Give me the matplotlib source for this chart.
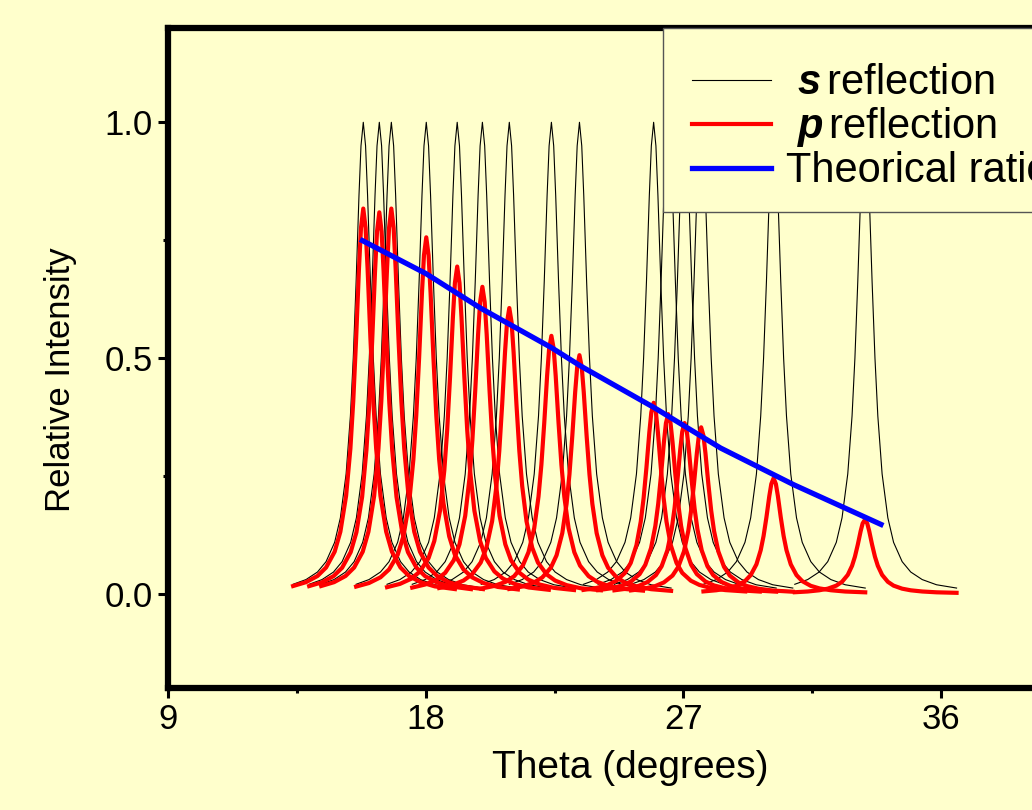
import matplotlib.pyplot as plt
import matplotlib.patches as mpatches
import numpy as np

# peak positions (deg) and heights
peak_theta = [15.82, 16.38, 16.80, 18.02, 19.10, 19.98, 20.92, 22.39, 23.37,
              25.96, 26.47, 27.04, 27.62, 30.15, 33.34]
s_height = [1.0, 1.0, 1.0, 1.0, 1.0, 1.0, 1.0, 1.0, 1.0,
            1.0, 1.0, 1.0, 1.0, 1.0, 1.0]
p_height = [0.817, 0.809, 0.817, 0.756, 0.694, 0.651, 0.606, 0.547, 0.506,
            0.405, 0.381, 0.362, 0.353, 0.245, 0.157]

# measured line profile of one scan (offset from peak in deg, relative intensity)
profile_offset = [-2.45, -2.0, -1.6, -1.3, -1.0, -0.8, -0.6, -0.45, -0.35, -0.25,
                  -0.15, -0.08, 0.0, 0.08, 0.15, 0.25, 0.35, 0.45, 0.6, 0.8,
                  1.0, 1.3, 1.6, 2.0, 2.5, 3.2]
profile_value = [0.020, 0.030, 0.046, 0.068, 0.109, 0.161, 0.254, 0.377, 0.500, 0.662,
                 0.845, 0.950, 1.000, 0.950, 0.845, 0.662, 0.500, 0.377, 0.254, 0.161,
                 0.109, 0.068, 0.046, 0.030, 0.019, 0.012]

# theoretical p/s ratio curve
ratio_theta = [15.79, 18.01, 19.91, 22.39, 23.41, 26.00, 28.30, 30.86, 33.90]
ratio_value = [0.749, 0.679, 0.606, 0.522, 0.483, 0.394, 0.309, 0.231, 0.147]

bg = '#FFFFCC'
plt.rcParams['font.family'] = 'Liberation Sans'
plt.rcParams['mathtext.fontset'] = 'custom'
plt.rcParams['mathtext.rm'] = 'Liberation Sans'
plt.rcParams['mathtext.it'] = 'Liberation Sans:italic'
plt.rcParams['mathtext.bf'] = 'Liberation Sans:bold'
plt.rcParams['mathtext.bfit'] = 'Liberation Sans:bold:italic'

fig = plt.figure(figsize=(10.32, 8.10), dpi=100, facecolor=bg)
ax = fig.add_axes([168/1032, 1 - 688/810, 924/1032, 660/810], facecolor=bg)

off = np.array(profile_offset)
prof = np.array(profile_value)

for k, (t, h) in enumerate(zip(peak_theta, s_height)):
    ax.plot(t + off, h * prof, color='black', lw=0.8,
            label=' $\\mathbfit{s}\\,$reflection' if k == 0 else None, zorder=2)
for k, (t, h) in enumerate(zip(peak_theta, p_height)):
    ax.plot(t + off, h * prof, color='red', lw=3.0,
            label=' $\\mathbfit{p}\\,$reflection' if k == 0 else None, zorder=3)
ax.plot(ratio_theta, ratio_value, color='blue', lw=3.8, label='Theorical ratio', zorder=4)

ax.set_xlim(9, 41.27)
ax.set_ylim(-0.2, 1.2)
ax.set_xticks([9, 18, 27, 36])
ax.set_xticks([13.5, 22.5, 31.5, 40.5], minor=True)
ax.set_yticks([0.0, 0.5, 1.0])
ax.set_yticklabels(['0.0', '0.5', '1.0'])
ax.set_yticks([0.25, 0.75], minor=True)
ax.tick_params(which='major', direction='out', length=7, width=2.2, labelsize=25, pad=4,
               top=False, right=False)
ax.tick_params(which='minor', direction='out', length=3.5, width=2.2, top=False, right=False)

for side in ['left', 'bottom', 'top', 'right']:
    ax.spines[side].set_linewidth(4.5)

ax.set_xlabel('Theta (degrees)', fontsize=28, labelpad=10)
ax.set_ylabel('Relative Intensity', fontsize=25)
ax.yaxis.set_label_coords(-0.099, 0.467)

# legend box (top edge sits on the axes frame, runs off the right side)
box_x0 = (663 - 168) / 924
box_y0 = (688 - 212) / 660
box = mpatches.Rectangle((box_x0, box_y0), 1.0, 1.0 - box_y0, transform=ax.transAxes,
                         facecolor=bg, edgecolor='#555555', lw=1.0, zorder=9, clip_on=False)
ax.add_patch(box)

leg = ax.legend(loc='upper left', bbox_to_anchor=(box_x0, 1.0 - 6 / 660), fontsize=30,
                frameon=False, handlelength=1.9, handletextpad=0.35,
                borderpad=0.7, labelspacing=0.05, borderaxespad=0)
leg.set_zorder(10)

plt.savefig('out.png', dpi=100, facecolor=bg)
